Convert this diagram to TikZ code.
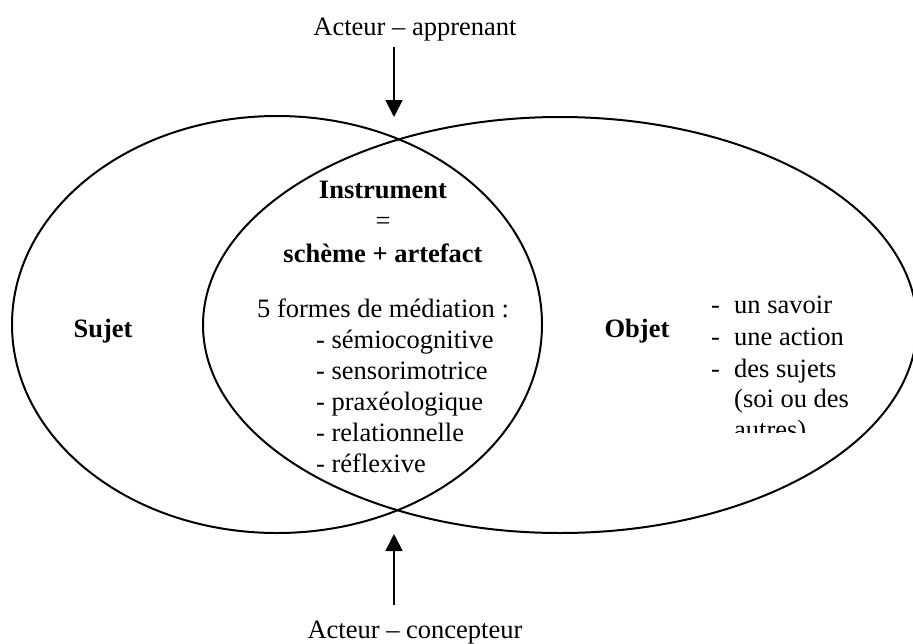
\documentclass[tikz,border=0pt]{standalone}
\usepackage{fontspec}
\setmainfont{Liberation Serif}
\usetikzlibrary{arrows.meta}
\tikzset{
  txt/.style={inner sep=0pt, font=\fontsize{26.5}{31}\selectfont},
  btxt/.style={txt, font=\fontsize{26.5}{31}\selectfont\bfseries},
  ring/.style={draw=black, line width=2pt},
  arr/.style={line width=1.8pt, -{Triangle[width=17pt,length=17pt]}}
}
\begin{document}
\begin{tikzpicture}[x=1pt,y=-1pt]
\useasboundingbox (0,0) rectangle (913,643);
\clip (0,0) rectangle (913,643);
% ellipses
\draw[ring] (277,324.5) ellipse [x radius=265pt, y radius=208.5pt];
\draw[ring] (560,325) ellipse [x radius=357pt, y radius=208pt];
% top / bottom labels
\node[txt, anchor=base] (app) at (415,35) {Acteur – apprenant};
\node[txt, anchor=base] (conc) at (415,638) {Acteur – concepteur};
\coordinate (a1s) at (394,47);
\coordinate (a1e) at (394,117);
\coordinate (a2s) at (394,605);
\coordinate (a2e) at (394,534);
\draw[arr] (a1s) -- (a1e);
\draw[arr] (a2s) -- (a2e);
% centre
\node[btxt, anchor=base] (instr) at (383,198) {Instrument};
\node[txt, anchor=base] (eq) at (383,229) {=};
\node[btxt, anchor=base] (sch) at (383,262) {schème + artefact};
\node[txt, anchor=base] (med) at (383,317) {5 formes de médiation :};
\node[txt, anchor=base west] (m1) at (316,348) {- sémiocognitive};
\node[txt, anchor=base west] (m2) at (316,379) {- sensorimotrice};
\node[txt, anchor=base west] (m3) at (316,410) {- praxéologique};
\node[txt, anchor=base west] (m4) at (316,441) {- relationnelle};
\node[txt, anchor=base west] (m5) at (316,472) {- réflexive};
% sides
\node[btxt, anchor=base] (sujet) at (103,337) {Sujet};
\node[btxt, anchor=base] (objet) at (637,337) {Objet};
% right list
\node[txt, anchor=base west] (d1) at (711,313) {-};
\node[txt, anchor=base west] (o1) at (734,313) {un savoir};
\node[txt, anchor=base west] (d2) at (711,345) {-};
\node[txt, anchor=base west] (o2) at (734,345) {une action};
\node[txt, anchor=base west] (d3) at (711,377) {-};
\node[txt, anchor=base west] (o3) at (734,377) {des sujets};
\node[txt, anchor=base west] (o4) at (734,407) {(soi ou des};
\begin{scope}
\clip (700,415) rectangle (900,432);
\node[txt, anchor=base west] (o5) at (734,438) {autres)};
\end{scope}
\end{tikzpicture}
\end{document}
